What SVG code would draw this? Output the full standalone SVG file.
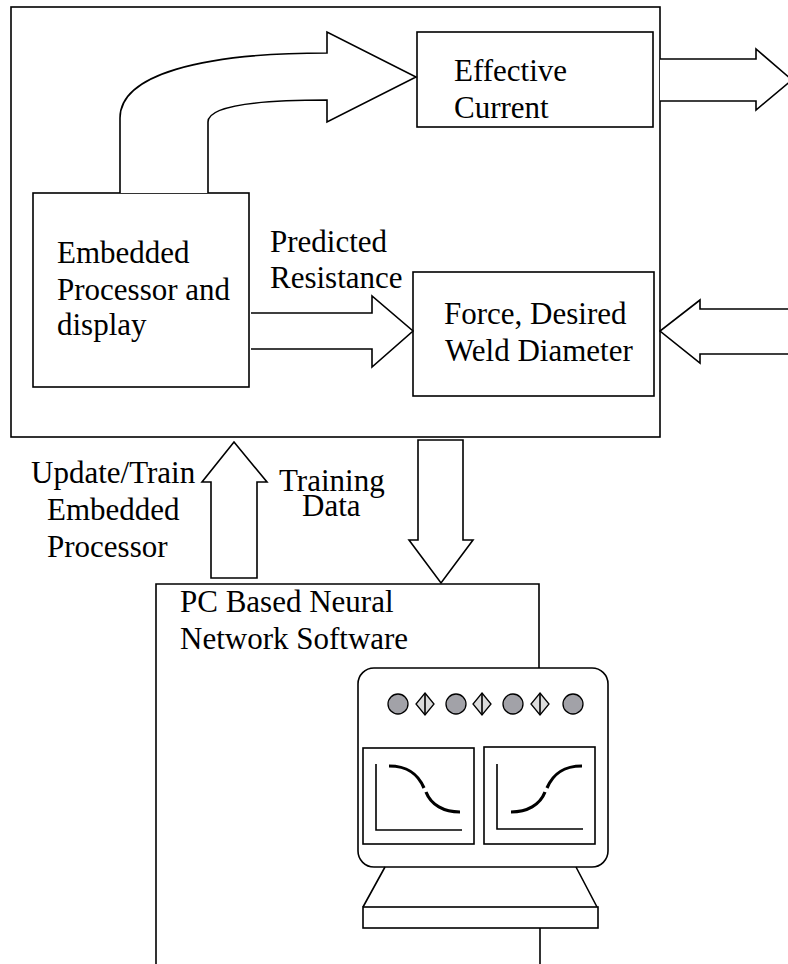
<svg xmlns="http://www.w3.org/2000/svg" width="788" height="964" viewBox="0 0 788 964">
  <style>
    .box { fill: none; stroke: #000; stroke-width: 1.6; }
    .arrow { fill: #fff; stroke: #000; stroke-width: 1.6; stroke-linejoin: miter; }
    .lbl { font-family: "Liberation Serif", "Times New Roman", serif; font-size: 31px; fill: #000; }
    .thin { fill: none; stroke: #000; stroke-width: 1.6; }
    .curve { fill: none; stroke: #000; stroke-width: 3.2; }
    .led { fill: #a2a2a8; stroke: #000; stroke-width: 1.3; }
    .knob { fill: #dcdcdc; stroke: #000; stroke-width: 1.3; }
  </style>
  <rect width="788" height="964" fill="#fff"/>

  <!-- controller enclosure -->
  <g id="controller">
    <rect class="box" x="11" y="7" width="649" height="430"/>
  </g>

  <g id="embedded-processor">
    <rect class="box" x="33" y="193" width="216" height="194"/>
    <text class="lbl" x="57" y="263">Embedded</text>
    <text class="lbl" x="57" y="300">Processor and</text>
    <text class="lbl" x="57" y="335">display</text>
  </g>

  <g id="effective-current">
    <rect class="box" x="417" y="32" width="236" height="95"/>
    <text class="lbl" x="454" y="81">Effective</text>
    <text class="lbl" x="454" y="118">Current</text>
  </g>

  <g id="force-diameter">
    <rect class="box" x="413" y="272" width="241" height="124"/>
    <text class="lbl" x="444" y="324">Force, Desired</text>
    <text class="lbl" x="445" y="361">Weld Diameter</text>
  </g>

  <g id="pc-software">
    <path class="thin" d="M156,964 V584 H539 V668"/>
    <path class="thin" d="M540,928 V964"/>
    <text class="lbl" x="180" y="612">PC Based Neural</text>
    <text class="lbl" x="180" y="649">Network Software</text>
  </g>

  <!-- workstation illustration -->
  <g id="computer">
    <rect class="thin" x="358" y="668" width="250" height="199" rx="16" ry="16"/>
    <circle class="led" cx="398" cy="704" r="10"/>
    <circle class="led" cx="456" cy="704" r="10"/>
    <circle class="led" cx="513" cy="704" r="10"/>
    <circle class="led" cx="573" cy="704" r="10"/>
    <g class="knob">
      <path d="M425,693 L434,704 L425,715 L416,704 Z"/>
      <path d="M482,693 L491,704 L482,715 L473,704 Z"/>
      <path d="M540,693 L549,704 L540,715 L531,704 Z"/>
    </g>
    <path class="thin" d="M425,693 V715 M482,693 V715 M540,693 V715"/>
    <!-- left screen: falling curve -->
    <rect class="thin" x="363" y="748" width="111" height="96"/>
    <path class="thin" d="M376,764 V830 H462"/>
    <path class="curve" d="M389,766 C408,766 418,774 424,788"/>
    <path class="curve" d="M426,792 C431,805 444,812 460,812"/>
    <!-- right screen: rising curve -->
    <rect class="thin" x="484" y="747" width="111" height="97"/>
    <path class="thin" d="M497,764 V829 H583"/>
    <path class="curve" d="M511,812 C527,812 540,805 545,792"/>
    <path class="curve" d="M547,788 C553,774 563,766 582,766"/>
    <!-- stand -->
    <path class="thin" d="M385,867 L363,907 M576,867 L597,907"/>
    <rect class="thin" x="363" y="907" width="235" height="21"/>
  </g>

  <g id="connectors">
    <!-- processor to effective current (curved) -->
    <path class="arrow" d="M120,193 V118 C120,75 200,53 327,53 V32 L416,77 L327,122 V100 C245,100 208,108 208,122 V193"/>
    <!-- predicted resistance -->
    <path class="arrow" d="M251,313 H372 V296 L413,331 L372,367 V349 H251"/>
    <text class="lbl" x="270" y="252">Predicted</text>
    <text class="lbl" x="270" y="288">Resistance</text>
    <!-- output from enclosure -->
    <path class="arrow" d="M660,59 H756 V49 L792,80 L756,110 V101 H660"/>
    <!-- input to enclosure -->
    <path class="arrow" d="M800,309 H700 V300 L660,331 L700,363 V354 H800"/>
    <!-- update / train (up) -->
    <path class="arrow" d="M211,578 V482 H202 L234,442 L267,482 H257 V578 Z"/>
    <text class="lbl" x="31" y="483">Update/Train</text>
    <text class="lbl" x="47" y="520">Embedded</text>
    <text class="lbl" x="47" y="557">Processor</text>
    <!-- training data (down) -->
    <path class="arrow" d="M418,440 H463 V540 H473 L441,583 L409,540 H418 Z"/>
    <text class="lbl" x="279" y="491">Training</text>
    <text class="lbl" x="302" y="516">Data</text>
  </g>
</svg>
